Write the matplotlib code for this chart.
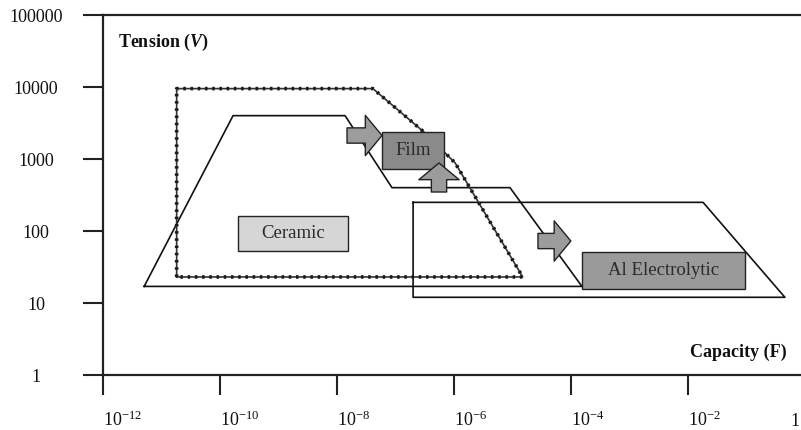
import matplotlib
matplotlib.use("Agg")
import matplotlib.pyplot as plt
from matplotlib.patches import Polygon, FancyArrowPatch

plt.rcParams["font.family"] = ["Liberation Serif", "DejaVu Serif"]
plt.rcParams["mathtext.fontset"] = "custom"
plt.rcParams["mathtext.rm"] = "Liberation Serif"
plt.rcParams["mathtext.bf"] = "Liberation Serif:bold"
plt.rcParams["mathtext.it"] = "Liberation Serif:italic:bold"

# --- domaines tension / capacité ---
# zone pointillée
dot_x = [1.8e-11, 1.8e-11, 4.1e-8, 3.2e-7, 1.05e-6, 1.5e-5, 1.8e-11]
dot_y = [23, 9500, 9500, 2300, 880, 23, 23]
# grand trapèze (céramique / film)
trap1_x = [5e-12, 1.66e-10, 1.37e-8, 8.7e-8, 9.1e-6, 1.55e-4, 5e-12]
trap1_y = [17, 4000, 4000, 400, 400, 17, 17]
# trapèze électrolytique
trap2_x = [2.0e-7, 1.83e-2, 0.46, 2.0e-7, 2.0e-7]
trap2_y = [250, 250, 12, 12, 250]

# étiquettes : nom, xmin, xmax, ymin, ymax, couleur
box_names = ["Ceramic", "Film", "Al Electrolytic"]
box_x0 = [2.02e-10, 5.87e-8, 1.55e-4]
box_x1 = [1.54e-8, 6.76e-7, 9.5e-2]
box_y0 = [52.7, 726, 15.6]
box_y1 = [162, 2371, 51]
box_fc = ["#d6d6d6", "#8a8a8a", "#9a9a9a"]

# flèches : départ -> pointe
arr_x0 = [1.48e-8, 5.55e-7, 2.74e-5]
arr_y0 = [2120, 348, 72.6]
arr_x1 = [5.87e-8, 5.55e-7, 1.0e-4]
arr_y1 = [2120, 880, 72.6]

xticks = [1e-12, 1e-10, 1e-8, 1e-6, 1e-4, 1e-2, 1]
xlabels = [r"$\mathregular{10^{-12}}$", r"$\mathregular{10^{-10}}$", r"$\mathregular{10^{-8}}$",
           r"$\mathregular{10^{-6}}$", r"$\mathregular{10^{-4}}$", r"$\mathregular{10^{-2}}$", "1"]
yticks = [1, 10, 100, 1000, 10000, 100000]
ylabels = ["1", "10", "100", "1000", "10000", "100000"]

fig = plt.figure(figsize=(8.01, 4.30), dpi=100)
W, H = 801, 430
ax = fig.add_axes([103.3 / W, (H - 375) / H, (804.6 - 103.3) / W, 360 / H])
ax.set_xscale("log")
ax.set_yscale("log")
ax.set_xlim(1e-12, 1)
ax.set_ylim(1, 100000)

ax.plot(trap1_x, trap1_y, color="#111", lw=1.2, zorder=2)
ax.plot(trap2_x, trap2_y, color="#111", lw=1.2, zorder=2)
ax.plot(dot_x, dot_y, color="#333", lw=1.2, zorder=2)
ax.plot(dot_x, dot_y, color="#1a1a1a", lw=2.6, ls=(0, (0.7, 1.3)), zorder=2)

for name, x0, x1, y0, y1, fc in zip(box_names, box_x0, box_x1, box_y0, box_y1, box_fc):
    ax.add_patch(Polygon([(x0, y0), (x1, y0), (x1, y1), (x0, y1)], closed=True,
                         fc=fc, ec="#222", lw=1.0, zorder=3))
    ax.text((x0 * x1) ** 0.5, (y0 * y1) ** 0.5, name, ha="center", va="center",
            fontsize=13.5, color="#2a2a2a", zorder=5)

for xa, ya, xb, yb in zip(arr_x0, arr_y0, arr_x1, arr_y1):
    ax.add_patch(FancyArrowPatch((xa, ya), (xb, yb),
                                 arrowstyle="simple,head_length=1.2,head_width=2.9,tail_width=1.1",
                                 mutation_scale=10, shrinkA=0, shrinkB=0,
                                 fc="#9c9c9c", ec="#222", lw=1.0, zorder=4))

ax.spines["right"].set_visible(False)
for s in ["left", "top", "bottom"]:
    ax.spines[s].set_linewidth(1.6)
    ax.spines[s].set_color("#222")

# le dernier repère (1) tombe au bord droit : son libellé est posé à part, décalé à gauche
ax.set_xticks(xticks)
ax.set_xticklabels(xlabels[:-1] + [""])
ax.annotate(xlabels[-1], xy=(xticks[-1], 0), xycoords=("data", "axes fraction"),
            xytext=(-7, -27), textcoords="offset points", ha="center", va="top",
            fontsize=13, color="#111", annotation_clip=False)
ax.set_yticks(yticks)
ax.set_yticklabels(ylabels)
ax.minorticks_off()
ax.tick_params(axis="both", direction="out", length=14.5, width=1.5, color="#222",
               labelsize=13, labelcolor="#111")
ax.tick_params(axis="x", pad=11)
ax.tick_params(axis="y", pad=34)
for lab in ax.get_yticklabels():
    lab.set_horizontalalignment("center")
for lab in ax.get_xticklabels():
    lab.set_horizontalalignment("left")

fig.text(118 / W, (H - 42) / H, r"$\mathbf{Tension\ (}\mathit{V}\mathbf{)}$",
         fontsize=13, ha="left", va="center", color="#111")
fig.text(787 / W, (H - 352) / H, "Capacity (F)", fontsize=13, fontweight="bold",
         ha="right", va="center", color="#111")

fig.savefig("out.png", dpi=100)
